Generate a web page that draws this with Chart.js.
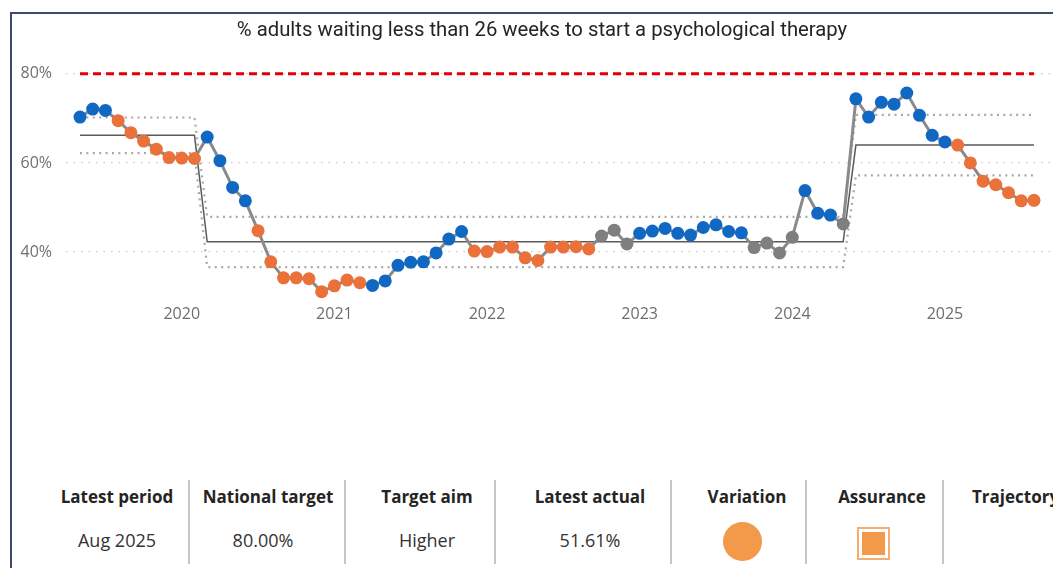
<!DOCTYPE html>
<html>
<head>
<meta charset="utf-8">
<script src="https://cdn.jsdelivr.net/npm/chart.js@4.4.1/dist/chart.umd.min.js"></script>
<style>
  body { margin: 0; background: #fff; width: 1053px; height: 568px; overflow: hidden; position: relative; font-family: "Open Sans", sans-serif; }
  #frame { position: absolute; left: 10px; top: 12px; width: 1100px; height: 600px; border-left: 2px solid #3c4a6c; border-top: 2px solid #3c4a6c; }
  #chartBox { position: absolute; left: 12px; top: 14px; width: 1063px; height: 317px; }
  .cell { position: absolute; width: 200px; text-align: center; color: #252423; white-space: nowrap; }
  .head { top: 485px; font-weight: 700; font-size: 17px; }
  .val { top: 528px; font-size: 18px; color: #333; }
  .sep { position: absolute; top: 480px; width: 2px; height: 84px; background: #c6c6c6; }
  #variation { position: absolute; left: 723px; top: 522px; width: 39px; height: 39px; border-radius: 50%; background: #f2994a; }
  #assurance { position: absolute; left: 857px; top: 527px; width: 29px; height: 29px; border: 2px solid #f5ad73; }
  #assurance div { position: absolute; left: 3px; top: 3px; width: 23px; height: 23px; background: #f2994a; }
</style>
</head>
<body>
<div id="frame"></div>
<div id="chartBox"><canvas id="spcChart"></canvas></div>

<div class="cell head" style="left:17px">Latest period</div>
<div class="cell head" style="left:168px">National target</div>
<div class="cell head" style="left:327px">Target aim</div>
<div class="cell head" style="left:490px">Latest actual</div>
<div class="cell head" style="left:647px">Variation</div>
<div class="cell head" style="left:782px">Assurance</div>
<div class="cell head" style="left:972px;width:auto;text-align:left">Trajectory</div>

<div class="cell val" style="left:17px">Aug 2025</div>
<div class="cell val" style="left:163px">80.00%</div>
<div class="cell val" style="left:327px">Higher</div>
<div class="cell val" style="left:490px">51.61%</div>
<div id="variation"></div>
<div id="assurance"><div></div></div>

<div class="sep" style="left:188px"></div>
<div class="sep" style="left:344px"></div>
<div class="sep" style="left:494px"></div>
<div class="sep" style="left:670px"></div>
<div class="sep" style="left:805px"></div>
<div class="sep" style="left:942px"></div>

<script>
const startYear = 2019;
const startMonth = 4; // May
const yearLabels = ["2020", "2021", "2022", "2023", "2024", "2025"];

// % waiting < 26 weeks, May 2019 - Aug 2025
const actual = [
  70.3, 72.1, 71.8, 69.5, 66.8, 64.9, 63.1, 61.2,
  61.1, 61.0, 65.8, 60.5, 54.5, 51.5, 44.8, 37.8, 34.2, 34.2, 34.0, 31.1,
  32.4, 33.7, 33.1, 32.5, 33.5, 37.0, 37.7, 37.8, 39.8, 42.9, 44.6, 40.2,
  40.1, 41.1, 41.1, 38.7, 38.1, 41.1, 41.1, 41.2, 40.7, 43.6, 44.9, 41.8,
  44.2, 44.7, 45.3, 44.2, 43.8, 45.5, 46.1, 44.6, 44.3, 41.0, 42.0, 39.8,
  43.3, 53.8, 48.7, 48.3, 46.3, 74.4, 70.3, 73.6, 73.2, 75.7, 70.7, 66.2,
  64.7, 64.0, 60.0, 55.9, 55.1, 53.3, 51.5, 51.61
];

// B = special cause improvement, O = special cause concern, G = common cause
const variation = [
  "B", "B", "B", "O", "O", "O", "O", "O",
  "O", "O", "B", "B", "B", "B", "O", "O", "O", "O", "O", "O",
  "O", "O", "O", "B", "B", "B", "B", "B", "B", "B", "B", "O",
  "O", "O", "O", "O", "O", "O", "O", "O", "O", "G", "G", "G",
  "B", "B", "B", "B", "B", "B", "B", "B", "B", "G", "G", "G",
  "G", "B", "B", "B", "G", "B", "B", "B", "B", "B", "B", "B",
  "B", "O", "O", "O", "O", "O", "O", "O"
];

const target = 80;
const segStart = [0, 10, 61];
const segMean = [66.2, 42.3, 64.0];
const segUpper = [70.2, 47.9, 70.8];
const segLower = [62.2, 36.6, 57.2];

const colours = { B: "#1168c3", O: "#ea7139", G: "#7f7f7f" };

const monthNames = ["Jan", "Feb", "Mar", "Apr", "May", "Jun", "Jul", "Aug", "Sep", "Oct", "Nov", "Dec"];
const months = actual.map((v, i) => {
  let m = startMonth + i;
  return monthNames[m % 12] + " " + (startYear + Math.floor(m / 12));
});
const yearTicks = yearLabels.map(y => months.indexOf("Jan " + y));

function segmentValue(list, i) {
  let s = 0;
  segStart.forEach((st, k) => { if (i >= st) s = k; });
  return list[s];
}

function series(fn) {
  return actual.map((v, i) => ({ x: i, y: fn(v, i) }));
}

const ctx = document.getElementById("spcChart").getContext("2d");
new Chart(ctx, {
  type: "line",
  data: {
    datasets: [
      {
        label: "Actual",
        data: series(v => v),
        borderColor: "#8a8a8a",
        borderWidth: 3,
        pointRadius: 6.5,
        pointBorderWidth: 0,
        pointBackgroundColor: variation.map(c => colours[c]),
        order: 0
      },
      {
        label: "Target",
        data: series(() => target),
        borderColor: "#e00000",
        borderWidth: 3,
        borderDash: [8, 5],
        pointRadius: 0,
        order: 4
      },
      {
        label: "Mean",
        data: series((v, i) => segmentValue(segMean, i)),
        borderColor: "#5a5a5a",
        borderWidth: 1.5,
        pointRadius: 0,
        order: 3
      },
      {
        label: "Upper limit",
        data: series((v, i) => segmentValue(segUpper, i)),
        borderColor: "#a8a8a8",
        borderWidth: 2.2,
        borderDash: [2, 4.4],
        pointRadius: 0,
        order: 5
      },
      {
        label: "Lower limit",
        data: series((v, i) => segmentValue(segLower, i)),
        borderColor: "#a8a8a8",
        borderWidth: 2.2,
        borderDash: [2, 4.4],
        pointRadius: 0,
        order: 5
      }
    ]
  },
  options: {
    responsive: true,
    maintainAspectRatio: false,
    animation: false,
    layout: { autoPadding: false, padding: { right: 3 } },
    plugins: {
      legend: { display: false },
      tooltip: { enabled: false },
      title: {
        display: true,
        text: "% adults waiting less than 26 weeks to start a psychological therapy",
        color: "#252423",
        font: { family: "Roboto", size: 20.3, weight: "normal", lineHeight: 1.2 },
        padding: { top: 4.3, bottom: 22.3 }
      }
    },
    scales: {
      x: {
        type: "linear",
        min: -1.1,
        max: 77.99,
        grid: { display: false, drawTicks: false },
        border: { display: false },
        afterBuildTicks: s => { s.ticks = yearTicks.map(v => ({ value: v })); },
        afterFit: s => { s.height = 30; },
        ticks: {
          autoSkip: false,
          maxRotation: 0,
          padding: 4,
          color: "#6e6e6e",
          font: { family: "Open Sans", size: 16 },
          callback: v => months[v] ? months[v].slice(4) : ""
        }
      },
      y: {
        min: 29,
        max: 82,
        grid: { color: "#c8c8c8", lineWidth: 1.2, drawTicks: false },
        border: { display: false, dash: [1.5, 6] },
        afterBuildTicks: s => { s.ticks = [40, 60, 80].map(v => ({ value: v })); },
        afterFit: s => { s.width = 54; },
        ticks: {
          padding: 14,
          color: "#707070",
          font: { family: "Open Sans", size: 16 },
          callback: v => v + "%"
        }
      }
    }
  }
});
</script>
</body>
</html>
